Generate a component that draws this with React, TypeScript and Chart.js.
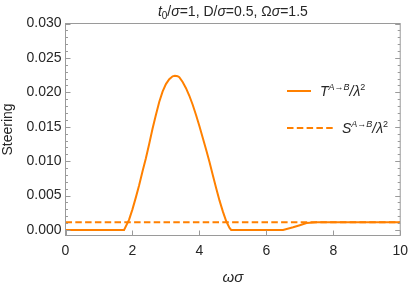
import React, { useEffect, useRef } from "react";
import { Chart, registerables } from "chart.js";

Chart.register(...registerables);

// omega*sigma samples and T^{A->B}/lambda^2 values
const omegaT = [0, 1.75, 1.9, 2.0, 2.1, 2.2, 2.3, 2.4, 2.5, 2.6, 2.7, 2.8, 2.9, 3.0, 3.1, 3.2, 3.27, 3.35, 3.4, 3.5, 3.6, 3.7, 3.8, 3.9, 4.0, 4.1, 4.2, 4.3, 4.4, 4.5, 4.6, 4.7, 4.8, 4.9, 4.95, 6.5, 6.8, 7.0, 7.2, 7.5, 10];
const steeringT = [0, 0, 0.0015, 0.003, 0.0047, 0.0065, 0.0085, 0.0104, 0.0125, 0.0147, 0.0167, 0.0186, 0.0201, 0.0212, 0.0219, 0.02232, 0.0224, 0.02235, 0.0222, 0.0215, 0.0206, 0.0195, 0.0182, 0.0167, 0.0151, 0.0134, 0.0117, 0.0099, 0.008, 0.0061, 0.0043, 0.0027, 0.0013, 0.0003, 0, 0, 0.0004, 0.0007, 0.001, 0.00114, 0.00114];
// S^{A->B}/lambda^2 (constant)
const omegaS = [0, 10];
const steeringS = [0.00114, 0.00114];

const xTicks = [0, 2, 4, 6, 8, 10];
const yTicks = [0, 0.005, 0.01, 0.015, 0.02, 0.025, 0.03];
const yMinorTicks = Array.from({ length: 31 }, (_, i) => i / 1000);

const ORANGE = "#FF8000";
const FRAME = "#9a9a9a";
const TEXT = "#262626";
const FONT = "'Liberation Sans', Arial, sans-serif";

type Seg = { t: string; it?: boolean; s?: number; dy?: number };

function segWidth(ctx: CanvasRenderingContext2D, segs: Seg[], base: number) {
  let w = 0;
  for (const sg of segs) {
    ctx.font = `${sg.it ? "italic " : ""}${sg.s ?? base}px ${FONT}`;
    w += ctx.measureText(sg.t).width;
  }
  return w;
}

function drawRich(ctx: CanvasRenderingContext2D, segs: Seg[], x: number, y: number, base: number, align: "left" | "center") {
  let cx = x;
  if (align === "center") cx = x - segWidth(ctx, segs, base) / 2;
  ctx.textAlign = "left";
  ctx.textBaseline = "alphabetic";
  ctx.fillStyle = TEXT;
  for (const sg of segs) {
    ctx.font = `${sg.it ? "italic " : ""}${sg.s ?? base}px ${FONT}`;
    ctx.fillText(sg.t, cx, y + (sg.dy ?? 0));
    cx += ctx.measureText(sg.t).width;
  }
}

const decorPlugin = {
  id: "decor",
  afterDatasetsDraw(chart: any) {
    const { ctx, chartArea: a, scales } = chart;
    const xs = scales.x;
    const ys = scales.y;
    ctx.save();
    // frame
    ctx.strokeStyle = FRAME;
    ctx.lineWidth = 1;
    ctx.strokeRect(a.left, a.top, a.right - a.left, a.bottom - a.top);
    // y ticks (left & right, inward)
    ctx.beginPath();
    for (const v of yMinorTicks) {
      const y = Math.round(ys.getPixelForValue(v)) + 0.5;
      const major = yTicks.some((t) => Math.abs(t - v) < 1e-9);
      const len = major ? 5 : 2.5;
      ctx.moveTo(a.left, y);
      ctx.lineTo(a.left + len, y);
      ctx.moveTo(a.right, y);
      ctx.lineTo(a.right - len, y);
    }
    for (const v of xTicks) {
      const x = Math.round(xs.getPixelForValue(v)) + 0.5;
      ctx.moveTo(x, a.bottom);
      ctx.lineTo(x, a.bottom - 5);
    }
    ctx.stroke();

    // title
    const mid = (a.left + a.right) / 2;
    drawRich(
      ctx,
      [
        { t: "t", it: true },
        { t: "0", s: 10, dy: 3 },
        { t: "/" },
        { t: "σ", it: true },
        { t: "=1, D/" },
        { t: "σ", it: true },
        { t: "=0.5, Ω" },
        { t: "σ", it: true },
        { t: "=1.5" },
      ],
      mid,
      16,
      14,
      "center"
    );

    // legend
    ctx.strokeStyle = ORANGE;
    ctx.lineWidth = 2;
    ctx.beginPath();
    ctx.moveTo(287, 91);
    ctx.lineTo(311, 91);
    ctx.stroke();
    ctx.setLineDash([6.5, 3.3]);
    ctx.beginPath();
    ctx.moveTo(287, 128);
    ctx.lineTo(333, 128);
    ctx.stroke();
    ctx.setLineDash([]);
    drawRich(
      ctx,
      [
        { t: "T", it: true },
        { t: "A→B", it: true, s: 9, dy: -6 },
        { t: "/λ", it: true },
        { t: "2", s: 9, dy: -6 },
      ],
      320,
      96,
      14,
      "left"
    );
    drawRich(
      ctx,
      [
        { t: "S", it: true },
        { t: "A→B", it: true, s: 9, dy: -6 },
        { t: "/λ", it: true },
        { t: "2", s: 9, dy: -6 },
      ],
      342,
      133,
      14,
      "left"
    );

    // x axis label
    drawRich(ctx, [{ t: "ωσ", it: true }], mid, 282, 15, "center");

    // y axis label
    ctx.translate(8, (a.top + a.bottom) / 2);
    ctx.rotate(-Math.PI / 2);
    ctx.font = `14px ${FONT}`;
    ctx.fillStyle = TEXT;
    ctx.textAlign = "center";
    ctx.textBaseline = "middle";
    ctx.fillText("Steering", 0, 0);
    ctx.restore();
  },
};

export default function App() {
  const ref = useRef<HTMLCanvasElement>(null);
  useEffect(() => {
    if (!ref.current) return;
    const chart = new Chart(ref.current, {
      type: "scatter",
      data: {
        datasets: [
          {
            label: "T",
            data: omegaT.map((x, i) => ({ x, y: steeringT[i] })),
            showLine: true,
            borderColor: ORANGE,
            borderWidth: 2,
            pointRadius: 0,
            tension: 0,
          },
          {
            label: "S",
            data: omegaS.map((x, i) => ({ x, y: steeringS[i] })),
            showLine: true,
            borderColor: ORANGE,
            borderWidth: 2,
            borderDash: [6.5, 3.3],
            pointRadius: 0,
          },
        ],
      },
      options: {
        responsive: false,
        animation: false,
        layout: { padding: { left: 0, top: 23.5, right: 8.5, bottom: 0 } },
        plugins: { legend: { display: false }, title: { display: false }, tooltip: { enabled: false } },
        scales: {
          x: {
            type: "linear",
            min: 0,
            max: 10,
            grid: { display: false, drawTicks: false },
            border: { display: false },
            afterFit: (s: any) => {
              s.height = 48.5;
            },
            afterBuildTicks: (s: any) => {
              s.ticks = xTicks.map((v) => ({ value: v }));
            },
            ticks: {
              padding: 7,
              color: TEXT,
              font: { family: FONT, size: 14 },
              maxRotation: 0,
              callback: (v: any) => String(v),
            },
          },
          y: {
            type: "linear",
            min: -0.0008,
            max: 0.03,
            grid: { display: false, drawTicks: false },
            border: { display: false },
            afterFit: (s: any) => {
              s.width = 65.5;
            },
            afterBuildTicks: (s: any) => {
              s.ticks = yTicks.map((v) => ({ value: v }));
            },
            ticks: {
              padding: 4,
              color: TEXT,
              font: { family: FONT, size: 14 },
              callback: (v: any) => Number(v).toFixed(3),
            },
          },
        },
      },
      plugins: [decorPlugin],
    });
    return () => chart.destroy();
  }, []);
  return (
    <div style={{ position: "fixed", left: 0, top: 0, width: 415, height: 284, background: "#fff" }}>
      <canvas ref={ref} width={415} height={284} />
    </div>
  );
}
